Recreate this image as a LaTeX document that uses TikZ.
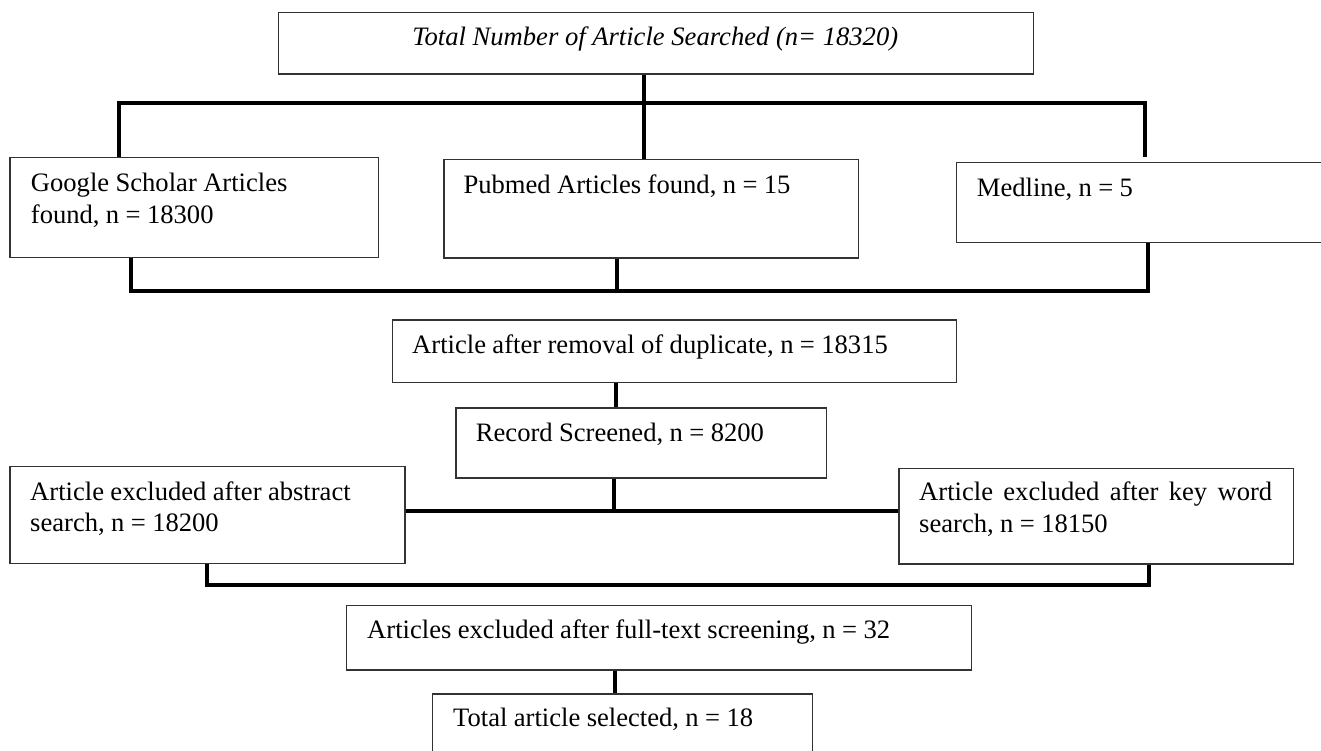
\documentclass[tikz,border=0pt]{standalone}
\usepackage{fontspec}
\setmainfont{Liberation Serif}
\newcommand\tightsp{\spaceskip=6.4pt plus 3pt minus 1pt\relax}
\begin{document}
\begin{tikzpicture}[x=1pt,y=-1pt,
  box/.style={draw=black!80, line width=1.3pt, inner sep=0pt, anchor=north west},
  txt/.style={inner sep=0pt, anchor=base west, font=\fontsize{26.6}{31.8}\selectfont, text width=600pt, align=left, execute at begin node=\tightsp},
  conn/.style={draw=black, line width=4pt, line join=miter}]
\useasboundingbox (0,0) rectangle (1321,751);

% boxes
\node[box, minimum width=755pt,   minimum height=61.3pt] (top) at (277.7,12) {};
\node[box, minimum width=368.4pt, minimum height=100pt]  (gs)  at (9.3,156.7) {};
\node[box, minimum width=414.4pt, minimum height=98.3pt] (pub) at (443.3,159) {};
\node[box, minimum width=380pt,   minimum height=80pt]   (med) at (956,161.7) {};
\node[box, minimum width=564.3pt, minimum height=62.7pt] (dup) at (391.7,319.3) {};
\node[box, minimum width=370.7pt, minimum height=70pt]   (rec) at (455.3,407.3) {};
\node[box, minimum width=395pt,   minimum height=96.7pt] (abs) at (9.3,466) {};
\node[box, minimum width=394.4pt, minimum height=95.6pt] (kw)  at (898.3,467.7) {};
\node[box, minimum width=625pt,   minimum height=64.3pt] (ft)  at (346,605) {};
\node[box, minimum width=379.7pt, minimum height=70pt]   (tot) at (432,693.3) {};

% texts
\node[inner sep=0pt, anchor=base, font=\fontsize{26.6}{31.8}\selectfont\itshape] (t-top) at (655.2,46) {Total Number of Article Searched (n= 18320)};
\node[txt] (t-gs)  at (30.7,191.7) {Google Scholar Articles\\found, n = 18300};
\node[txt] (t-pub) at (463.3,193.3) {Pubmed Articles found, n = 15};
\node[txt] (t-med) at (976.7,196.7) {Medline, n = 5};
\node[txt] (t-dup) at (412,353) {Article after removal of duplicate, n = 18315};
\node[txt] (t-rec) at (475.7,441.7) {Record Screened, n = 8200};
\node[txt] (t-abs) at (30,500) {Article excluded after abstract\\search, n = 18200};
\node[txt] (t-kw)  at (919,500.7) {\makebox[353pt][s]{Article excluded after key word}\\search, n = 18150};
\node[txt] (t-ft)  at (367,638.3) {Articles excluded after full-text screening, n = 32};
\node[txt] (t-tot) at (453,726.7) {Total article selected, n = 18};

% junction coordinates
\coordinate (jT)  at (644,103);
\coordinate (jL)  at (119,103);
\coordinate (jR)  at (1145,103);
\coordinate (jB1) at (131,290.5);
\coordinate (jB2) at (617,290.5);
\coordinate (jB3) at (1147.5,290.5);
\coordinate (jD)  at (616,0);
\coordinate (jM)  at (614,511);
\coordinate (jE1) at (207,585);
\coordinate (jE2) at (1149.3,585);
\coordinate (jF)  at (615,0);

% connectors
\draw[conn] (top.south -| jT) -- (pub.north -| jT);
\draw[conn] (gs.north -| jL) -- (jL) -- (jR) -- ([yshift=5pt]med.north -| jR);
\draw[conn] (gs.south -| jB1) -- (jB1) -- (jB3) -- (med.south -| jB3);
\draw[conn] (pub.south -| jB2) -- (jB2);
\draw[conn] (dup.south -| jD) -- (rec.north -| jD);
\draw[conn] (rec.south -| jM) -- (jM);
\draw[conn] (abs.east |- jM) -- (kw.west |- jM);
\draw[conn] (abs.south -| jE1) -- (jE1) -- (jE2) -- (kw.south -| jE2);
\draw[conn] (ft.south -| jF) -- (tot.north -| jF);
\end{tikzpicture}
\end{document}
